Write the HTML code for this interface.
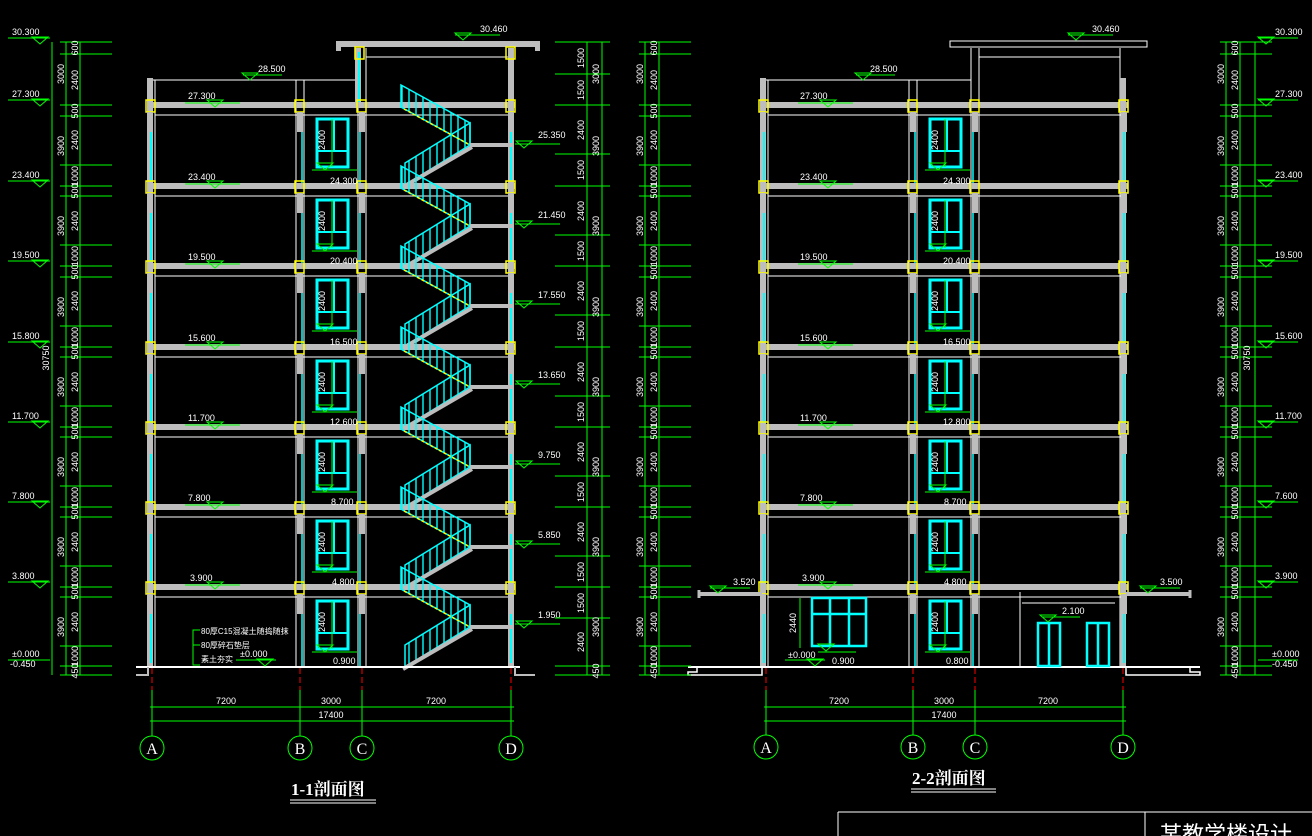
<!DOCTYPE html>
<html><head><meta charset="utf-8"><style>
html,body{margin:0;padding:0;background:#000;}
svg{display:block;}
text{font-family:"Liberation Sans Narrow","Liberation Sans","Noto Sans CJK SC",sans-serif;fill:#fff;font-size:9px;}
.d text{text-anchor:middle;}
.t{font-family:"Liberation Serif","Noto Serif CJK SC","Noto Sans CJK SC",serif;font-size:17px;font-weight:bold;}
</style></head><body>
<svg width="1312" height="836" viewBox="0 0 1312 836" xmlns="http://www.w3.org/2000/svg">
<defs>
<pattern id="rail" width="7" height="10" patternUnits="userSpaceOnUse"><rect width="7" height="10" fill="none"/><line x1="3" y1="0" x2="3" y2="10" stroke="#0ff" stroke-width="1.4"/></pattern>
<g id="mk"><path d="M-8 -7 L8 -7 L0 0 Z" fill="none" stroke="#0f0" stroke-width="1"/></g>
<g id="fl">
<line x1="147" y1="0" x2="515" y2="0" stroke="#bdbdbd" stroke-width="6"/>
<line x1="155" y1="10" x2="510" y2="10" stroke="#fff" stroke-width="1"/>
<rect x="146" y="-5" width="9" height="12" fill="none" stroke="#ff0" stroke-width="1.5"/>
<rect x="295" y="-5" width="9" height="12" fill="none" stroke="#ff0" stroke-width="1.5"/>
<rect x="357" y="-5" width="9" height="12" fill="none" stroke="#ff0" stroke-width="1.5"/>
<rect x="506" y="-5" width="9" height="12" fill="none" stroke="#ff0" stroke-width="1.5"/>
<rect x="147" y="7" width="6" height="20" fill="#bdbdbd"/>
<rect x="297" y="7" width="6" height="20" fill="#bdbdbd"/>
<rect x="359" y="7" width="6" height="20" fill="#bdbdbd"/>
<rect x="508" y="7" width="6" height="20" fill="#bdbdbd"/>
<line x1="151" y1="27" x2="151" y2="76" stroke="#0ff" stroke-width="2"/>
<line x1="511" y1="27" x2="511" y2="76" stroke="#0ff" stroke-width="2"/>
<line x1="302" y1="27" x2="302" y2="80" stroke="#0ff" stroke-width="1.5"/>
<line x1="360" y1="27" x2="360" y2="80" stroke="#0ff" stroke-width="1.5"/>
<rect x="317" y="14" width="31" height="48" fill="none" stroke="#0ff" stroke-width="3"/>
<line x1="317" y1="46" x2="348" y2="46" stroke="#0ff" stroke-width="2"/>
<line x1="334" y1="14" x2="334" y2="46" stroke="#0ff" stroke-width="2"/>
<line x1="332" y1="14" x2="332" y2="62" stroke="#0f0"/>
<line x1="312" y1="65" x2="357" y2="65" stroke="#0f0"/>
<use href="#mk" x="325" y="65"/>
</g>
<g id="st">
<polygon points="405,80 470,40 470,18 405,58" fill="url(#rail)" stroke="#0ff" stroke-width="1.5"/>
<line x1="403" y1="82" x2="472" y2="42" stroke="#bdbdbd" stroke-width="4"/>
<polygon points="401,-20 470,18 470,40 401,2" fill="url(#rail)" stroke="#0ff" stroke-width="1.5"/>
<line x1="404" y1="4" x2="470" y2="40" stroke="#ff0" stroke-width="1.5" stroke-dasharray="3,2"/>
<line x1="470" y1="40" x2="512" y2="40" stroke="#bdbdbd" stroke-width="4"/>
</g>
</defs>

<!-- ============ LEFT DRAWING ============ -->
<g stroke="#fff" stroke-width="1" fill="none">
<line x1="155" y1="80" x2="155" y2="666"/><line x1="296" y1="80" x2="296" y2="666"/><line x1="304" y1="80" x2="304" y2="666"/>
<line x1="358" y1="48" x2="358" y2="666"/><line x1="366" y1="48" x2="366" y2="666"/><line x1="510" y1="48" x2="510" y2="666"/>
<line x1="148" y1="80" x2="358" y2="80"/>
<line x1="366" y1="57" x2="510" y2="57"/>
</g>
<rect x="147" y="78" width="6" height="588" fill="#bdbdbd"/>
<rect x="508" y="48" width="6" height="618" fill="#bdbdbd"/>
<rect x="355" y="48" width="6" height="57" fill="#bdbdbd"/>
<rect x="336" y="41" width="204" height="6" fill="#bdbdbd"/>
<rect x="336" y="41" width="5" height="10" fill="#bdbdbd"/><rect x="535" y="41" width="5" height="10" fill="#bdbdbd"/>
<line x1="359" y1="52" x2="359" y2="105" stroke="#0ff" stroke-width="2"/>
<rect x="355" y="47" width="9" height="12" fill="none" stroke="#ff0" stroke-width="1.5"/>
<rect x="506" y="47" width="9" height="12" fill="none" stroke="#ff0" stroke-width="1.5"/>
<use href="#fl" y="105"/><use href="#fl" y="186"/><use href="#fl" y="266"/><use href="#fl" y="347"/>
<use href="#fl" y="427"/><use href="#fl" y="507"/><use href="#fl" y="587"/>
<use href="#st" y="105"/><use href="#st" y="186"/><use href="#st" y="266"/><use href="#st" y="347"/>
<use href="#st" y="427"/><use href="#st" y="507"/><use href="#st" y="587"/>
<line x1="136" y1="667" x2="520" y2="667" stroke="#fff" stroke-width="2"/>
<polyline points="136,675 148,675 148,667" stroke="#bdbdbd" stroke-width="2" fill="none"/>
<polyline points="515,667 515,675 535,675" stroke="#bdbdbd" stroke-width="2" fill="none"/>

<!-- left labels -->
<g>
<text x="188" y="99">27.300</text><line x1="185" y1="103" x2="240" y2="103" stroke="#0f0"/><use href="#mk" x="215" y="107"/>
<text x="188" y="180">23.400</text><line x1="185" y1="184" x2="240" y2="184" stroke="#0f0"/><use href="#mk" x="215" y="188"/>
<text x="188" y="260">19.500</text><line x1="185" y1="264" x2="240" y2="264" stroke="#0f0"/><use href="#mk" x="215" y="268"/>
<text x="188" y="341">15.600</text><line x1="185" y1="345" x2="240" y2="345" stroke="#0f0"/><use href="#mk" x="215" y="349"/>
<text x="188" y="421">11.700</text><line x1="185" y1="425" x2="240" y2="425" stroke="#0f0"/><use href="#mk" x="215" y="429"/>
<text x="188" y="501">7.800</text><line x1="185" y1="505" x2="240" y2="505" stroke="#0f0"/><use href="#mk" x="215" y="509"/>
<text x="190" y="581">3.900</text><line x1="185" y1="585" x2="240" y2="585" stroke="#0f0"/><use href="#mk" x="215" y="589"/>
<text x="258" y="72">28.500</text><line x1="243" y1="75" x2="282" y2="75" stroke="#0f0"/><use href="#mk" x="250" y="80"/>
<text x="480" y="32">30.460</text><line x1="455" y1="35" x2="500" y2="35" stroke="#0f0"/><use href="#mk" x="463" y="40"/>
<text x="330" y="184">24.300</text><text x="330" y="264">20.400</text><text x="330" y="345">16.500</text>
<text x="330" y="425">12.600</text><text x="331" y="505">8.700</text><text x="332" y="585">4.800</text><text x="333" y="664">0.900</text>
<g class="d">
<text transform="translate(325,140) rotate(-90)">2400</text><text transform="translate(325,221) rotate(-90)">2400</text>
<text transform="translate(325,301) rotate(-90)">2400</text><text transform="translate(325,382) rotate(-90)">2400</text>
<text transform="translate(325,462) rotate(-90)">2400</text><text transform="translate(325,542) rotate(-90)">2400</text>
<text transform="translate(325,622) rotate(-90)">2400</text>
</g>
<text x="538" y="138">25.350</text><line x1="515" y1="144" x2="560" y2="144" stroke="#0f0"/><use href="#mk" x="524" y="148"/>
<text x="538" y="218">21.450</text><line x1="515" y1="224" x2="560" y2="224" stroke="#0f0"/><use href="#mk" x="524" y="228"/>
<text x="538" y="298">17.550</text><line x1="515" y1="304" x2="560" y2="304" stroke="#0f0"/><use href="#mk" x="524" y="308"/>
<text x="538" y="378">13.650</text><line x1="515" y1="384" x2="560" y2="384" stroke="#0f0"/><use href="#mk" x="524" y="388"/>
<text x="538" y="458">9.750</text><line x1="515" y1="464" x2="560" y2="464" stroke="#0f0"/><use href="#mk" x="524" y="468"/>
<text x="538" y="538">5.850</text><line x1="515" y1="544" x2="560" y2="544" stroke="#0f0"/><use href="#mk" x="524" y="548"/>
<text x="538" y="618">1.950</text><line x1="515" y1="624" x2="560" y2="624" stroke="#0f0"/><use href="#mk" x="524" y="628"/>
<polyline points="200,665 193,665 193,630 200,630" stroke="#0f0" fill="none"/>
<line x1="193" y1="645" x2="200" y2="645" stroke="#0f0"/>
<text x="201" y="634" style="font-size:8px">80厚C15混凝土随捣随抹</text>
<text x="201" y="648" style="font-size:8px">80厚碎石垫层</text>
<text x="201" y="662" style="font-size:8px">素土夯实</text>
<text x="240" y="657">±0.000</text><line x1="236" y1="660" x2="276" y2="660" stroke="#0f0"/><use href="#mk" x="265" y="666"/>
</g>

<!-- left outer dims -->
<g id="dimcols">
<g stroke="#0f0" stroke-width="1">
<line x1="66" y1="42" x2="66" y2="675"/><line x1="80" y1="42" x2="80" y2="675"/>
<line x1="60" y1="42" x2="112" y2="42"/><line x1="60" y1="54" x2="112" y2="54"/><line x1="60" y1="105" x2="112" y2="105"/>
<line x1="60" y1="116" x2="112" y2="116"/><line x1="60" y1="165" x2="112" y2="165"/><line x1="60" y1="186" x2="112" y2="186"/>
<line x1="60" y1="196" x2="112" y2="196"/><line x1="60" y1="245" x2="112" y2="245"/><line x1="60" y1="266" x2="112" y2="266"/>
<line x1="60" y1="277" x2="112" y2="277"/><line x1="60" y1="326" x2="112" y2="326"/><line x1="60" y1="347" x2="112" y2="347"/>
<line x1="60" y1="357" x2="112" y2="357"/><line x1="60" y1="406" x2="112" y2="406"/><line x1="60" y1="427" x2="112" y2="427"/>
<line x1="60" y1="437" x2="112" y2="437"/><line x1="60" y1="486" x2="112" y2="486"/><line x1="60" y1="507" x2="112" y2="507"/>
<line x1="60" y1="517" x2="112" y2="517"/><line x1="60" y1="566" x2="112" y2="566"/><line x1="60" y1="587" x2="112" y2="587"/>
<line x1="60" y1="597" x2="112" y2="597"/><line x1="60" y1="646" x2="112" y2="646"/><line x1="60" y1="666" x2="112" y2="666"/>
<line x1="60" y1="675" x2="112" y2="675"/>
</g>
<g class="d">
<text transform="translate(64,74) rotate(-90)">3000</text>
<text transform="translate(64,146) rotate(-90)">3900</text><text transform="translate(64,226) rotate(-90)">3900</text>
<text transform="translate(64,307) rotate(-90)">3900</text><text transform="translate(64,387) rotate(-90)">3900</text>
<text transform="translate(64,467) rotate(-90)">3900</text><text transform="translate(64,547) rotate(-90)">3900</text>
<text transform="translate(64,627) rotate(-90)">3900</text>
<text transform="translate(78,48) rotate(-90)">600</text><text transform="translate(78,80) rotate(-90)">2400</text>
<text transform="translate(78,111) rotate(-90)">500</text><text transform="translate(78,140) rotate(-90)">2400</text><text transform="translate(78,176) rotate(-90)">1000</text>
<text transform="translate(78,191) rotate(-90)">500</text><text transform="translate(78,221) rotate(-90)">2400</text><text transform="translate(78,256) rotate(-90)">1000</text>
<text transform="translate(78,272) rotate(-90)">500</text><text transform="translate(78,301) rotate(-90)">2400</text><text transform="translate(78,337) rotate(-90)">1000</text>
<text transform="translate(78,352) rotate(-90)">500</text><text transform="translate(78,382) rotate(-90)">2400</text><text transform="translate(78,417) rotate(-90)">1000</text>
<text transform="translate(78,432) rotate(-90)">500</text><text transform="translate(78,462) rotate(-90)">2400</text><text transform="translate(78,497) rotate(-90)">1000</text>
<text transform="translate(78,512) rotate(-90)">500</text><text transform="translate(78,542) rotate(-90)">2400</text><text transform="translate(78,577) rotate(-90)">1000</text>
<text transform="translate(78,592) rotate(-90)">500</text><text transform="translate(78,622) rotate(-90)">2400</text><text transform="translate(78,656) rotate(-90)">1000</text>
<text transform="translate(78,671) rotate(-90)">450</text>
</g>
</g>
<line x1="52" y1="42" x2="52" y2="675" stroke="#0f0"/>
<g class="d"><text transform="translate(49,358) rotate(-90)">30750</text></g>
<g stroke="#0f0">
<line x1="8" y1="38" x2="50" y2="38"/><line x1="8" y1="100" x2="50" y2="100"/><line x1="8" y1="181" x2="50" y2="181"/>
<line x1="8" y1="261" x2="50" y2="261"/><line x1="8" y1="342" x2="50" y2="342"/><line x1="8" y1="422" x2="50" y2="422"/>
<line x1="8" y1="502" x2="50" y2="502"/><line x1="8" y1="582" x2="50" y2="582"/><line x1="8" y1="660" x2="50" y2="660"/>
</g>
<use href="#mk" x="40" y="44"/><use href="#mk" x="40" y="106"/><use href="#mk" x="40" y="187"/><use href="#mk" x="40" y="267"/>
<use href="#mk" x="40" y="348"/><use href="#mk" x="40" y="428"/><use href="#mk" x="40" y="508"/><use href="#mk" x="40" y="588"/>
<text x="12" y="35">30.300</text><text x="12" y="97">27.300</text><text x="12" y="178">23.400</text><text x="12" y="258">19.500</text>
<text x="12" y="339">15.800</text><text x="12" y="419">11.700</text><text x="12" y="499">7.800</text><text x="12" y="579">3.800</text>
<text x="12" y="657">±0.000</text><text x="10" y="667">-0.450</text>

<!-- stair dims -->
<g stroke="#0f0">
<line x1="587" y1="42" x2="587" y2="675"/><line x1="602" y1="42" x2="602" y2="675"/>
<line x1="555" y1="42" x2="610" y2="42"/><line x1="555" y1="74" x2="610" y2="74"/><line x1="555" y1="105" x2="610" y2="105"/>
<line x1="555" y1="154" x2="610" y2="154"/><line x1="555" y1="186" x2="610" y2="186"/><line x1="555" y1="235" x2="610" y2="235"/>
<line x1="555" y1="266" x2="610" y2="266"/><line x1="555" y1="315" x2="610" y2="315"/><line x1="555" y1="347" x2="610" y2="347"/>
<line x1="555" y1="396" x2="610" y2="396"/><line x1="555" y1="427" x2="610" y2="427"/><line x1="555" y1="476" x2="610" y2="476"/>
<line x1="555" y1="507" x2="610" y2="507"/><line x1="555" y1="556" x2="610" y2="556"/><line x1="555" y1="587" x2="610" y2="587"/>
<line x1="555" y1="618" x2="610" y2="618"/><line x1="555" y1="666" x2="610" y2="666"/><line x1="555" y1="675" x2="610" y2="675"/>
</g>
<g class="d">
<text transform="translate(584,58) rotate(-90)">1500</text><text transform="translate(584,90) rotate(-90)">1500</text><text transform="translate(599,74) rotate(-90)">3000</text>
<text transform="translate(584,130) rotate(-90)">2400</text><text transform="translate(584,170) rotate(-90)">1500</text><text transform="translate(599,146) rotate(-90)">3900</text>
<text transform="translate(584,211) rotate(-90)">2400</text><text transform="translate(584,251) rotate(-90)">1500</text><text transform="translate(599,226) rotate(-90)">3900</text>
<text transform="translate(584,291) rotate(-90)">2400</text><text transform="translate(584,331) rotate(-90)">1500</text><text transform="translate(599,307) rotate(-90)">3900</text>
<text transform="translate(584,372) rotate(-90)">2400</text><text transform="translate(584,412) rotate(-90)">1500</text><text transform="translate(599,387) rotate(-90)">3900</text>
<text transform="translate(584,452) rotate(-90)">2400</text><text transform="translate(584,492) rotate(-90)">1500</text><text transform="translate(599,467) rotate(-90)">3900</text>
<text transform="translate(584,532) rotate(-90)">2400</text><text transform="translate(584,572) rotate(-90)">1500</text><text transform="translate(599,547) rotate(-90)">3900</text>
<text transform="translate(584,603) rotate(-90)">1500</text><text transform="translate(584,642) rotate(-90)">2400</text><text transform="translate(599,627) rotate(-90)">3900</text>
<text transform="translate(599,671) rotate(-90)">450</text>
</g>

<!-- left axes -->
<g stroke="#f00" stroke-dasharray="6,3"><line x1="152" y1="668" x2="152" y2="690"/><line x1="300" y1="668" x2="300" y2="690"/><line x1="362" y1="668" x2="362" y2="690"/><line x1="511" y1="668" x2="511" y2="690"/></g>
<g stroke="#0f0" fill="none">
<line x1="152" y1="690" x2="152" y2="736"/><line x1="300" y1="690" x2="300" y2="736"/><line x1="362" y1="690" x2="362" y2="736"/><line x1="511" y1="690" x2="511" y2="736"/>
<line x1="150" y1="707" x2="514" y2="707"/><line x1="150" y1="721" x2="514" y2="721"/>
<circle cx="152" cy="748" r="12"/><circle cx="300" cy="748" r="12"/><circle cx="362" cy="748" r="12"/><circle cx="511" cy="748" r="12"/>
</g>
<g class="d"><text x="226" y="704">7200</text><text x="331" y="704">3000</text><text x="436" y="704">7200</text><text x="331" y="718">17400</text></g>
<g class="d" style="font-family:'Liberation Serif',serif"><text x="152" y="754" style="font-size:16px;font-family:'Liberation Serif',serif">A</text><text x="300" y="754" style="font-size:16px;font-family:'Liberation Serif',serif">B</text><text x="362" y="754" style="font-size:16px;font-family:'Liberation Serif',serif">C</text><text x="511" y="754" style="font-size:16px;font-family:'Liberation Serif',serif">D</text></g>
<text class="t" x="291" y="795">1-1剖面图</text>
<line x1="290" y1="800" x2="376" y2="800" stroke="#fff"/><line x1="290" y1="803" x2="376" y2="803" stroke="#fff"/>

<!-- ============ RIGHT DRAWING ============ -->
<g stroke="#fff" stroke-width="1" fill="none">
<line x1="768" y1="80" x2="768" y2="666"/><line x1="909" y1="80" x2="909" y2="666"/><line x1="917" y1="80" x2="917" y2="666"/>
<line x1="971" y1="48" x2="971" y2="666"/><line x1="979" y1="48" x2="979" y2="666"/><line x1="1120" y1="48" x2="1120" y2="666"/>
<line x1="761" y1="80" x2="971" y2="80"/><line x1="979" y1="57" x2="1120" y2="57"/>
<rect x="950" y="41" width="197" height="6"/>
<line x1="1020" y1="592" x2="1020" y2="666"/><line x1="1022" y1="603" x2="1115" y2="603"/>
</g>
<rect x="760" y="78" width="6" height="588" fill="#bdbdbd"/>
<rect x="1120" y="78" width="6" height="588" fill="#bdbdbd"/>
<g transform="translate(613,0)">
<use href="#fl" y="105"/><use href="#fl" y="186"/><use href="#fl" y="266"/><use href="#fl" y="347"/>
<use href="#fl" y="427"/><use href="#fl" y="507"/><use href="#fl" y="587"/>
</g>
<line x1="700" y1="594" x2="762" y2="594" stroke="#bdbdbd" stroke-width="4"/>
<line x1="699" y1="590" x2="699" y2="598" stroke="#bdbdbd" stroke-width="3"/>
<line x1="1126" y1="594" x2="1190" y2="594" stroke="#bdbdbd" stroke-width="4"/>
<line x1="1190" y1="590" x2="1190" y2="598" stroke="#bdbdbd" stroke-width="3"/>
<line x1="688" y1="667" x2="1200" y2="667" stroke="#fff" stroke-width="2"/>
<polyline points="762,667 762,675 688,675 688,672 697,672 697,667" stroke="#fff" fill="none" stroke-width="1.5"/>
<polyline points="1126,667 1126,675 1200,675 1200,672 1190,672 1190,667" stroke="#fff" fill="none" stroke-width="1.5"/>
<g stroke="#0ff" stroke-width="2.5" fill="none">
<rect x="812" y="598" width="54" height="48"/><line x1="812" y1="614" x2="866" y2="614"/><line x1="830" y1="598" x2="830" y2="646"/><line x1="849" y1="598" x2="849" y2="646"/>
<rect x="1038" y="623" width="22" height="43"/><line x1="1049" y1="623" x2="1049" y2="666"/>
<rect x="1087" y="623" width="22" height="43"/><line x1="1098" y1="623" x2="1098" y2="666"/>
</g>
<line x1="800" y1="598" x2="800" y2="648" stroke="#0f0"/>
<g class="d"><text transform="translate(796,623) rotate(-90)">2440</text></g>
<text x="832" y="664">0.900</text><line x1="818" y1="652" x2="856" y2="652" stroke="#0f0"/><use href="#mk" x="826" y="651"/>
<text x="788" y="658">±0.000</text><line x1="785" y1="660" x2="825" y2="660" stroke="#0f0"/><use href="#mk" x="815" y="666"/>
<text x="1062" y="614">2.100</text><line x1="1042" y1="617" x2="1080" y2="617" stroke="#0f0"/><use href="#mk" x="1048" y="622"/>
<text x="733" y="585">3.520</text><line x1="710" y1="588" x2="750" y2="588" stroke="#0f0"/><use href="#mk" x="718" y="593"/>
<text x="1160" y="585">3.500</text><line x1="1140" y1="588" x2="1180" y2="588" stroke="#0f0"/><use href="#mk" x="1148" y="593"/>
<text x="800" y="99">27.300</text><line x1="798" y1="103" x2="853" y2="103" stroke="#0f0"/><use href="#mk" x="828" y="107"/>
<text x="800" y="180">23.400</text><line x1="798" y1="184" x2="853" y2="184" stroke="#0f0"/><use href="#mk" x="828" y="188"/>
<text x="800" y="260">19.500</text><line x1="798" y1="264" x2="853" y2="264" stroke="#0f0"/><use href="#mk" x="828" y="268"/>
<text x="800" y="341">15.600</text><line x1="798" y1="345" x2="853" y2="345" stroke="#0f0"/><use href="#mk" x="828" y="349"/>
<text x="800" y="421">11.700</text><line x1="798" y1="425" x2="853" y2="425" stroke="#0f0"/><use href="#mk" x="828" y="429"/>
<text x="800" y="501">7.800</text><line x1="798" y1="505" x2="853" y2="505" stroke="#0f0"/><use href="#mk" x="828" y="509"/>
<text x="802" y="581">3.900</text><line x1="798" y1="585" x2="853" y2="585" stroke="#0f0"/><use href="#mk" x="828" y="589"/>
<text x="870" y="72">28.500</text><line x1="856" y1="75" x2="895" y2="75" stroke="#0f0"/><use href="#mk" x="863" y="80"/>
<text x="1092" y="32">30.460</text><line x1="1068" y1="35" x2="1113" y2="35" stroke="#0f0"/><use href="#mk" x="1076" y="40"/>
<text x="943" y="184">24.300</text><text x="943" y="264">20.400</text><text x="943" y="345">16.500</text>
<text x="943" y="425">12.800</text><text x="944" y="505">8.700</text><text x="944" y="585">4.800</text><text x="946" y="664">0.800</text>
<g class="d">
<text transform="translate(938,140) rotate(-90)">2400</text><text transform="translate(938,221) rotate(-90)">2400</text>
<text transform="translate(938,301) rotate(-90)">2400</text><text transform="translate(938,382) rotate(-90)">2400</text>
<text transform="translate(938,462) rotate(-90)">2400</text><text transform="translate(938,542) rotate(-90)">2400</text>
<text transform="translate(938,622) rotate(-90)">2400</text>
</g>

<use href="#dimcols" x="579"/>
<g transform="translate(1160,0)"><use href="#dimcols"/></g>
<line x1="1255" y1="42" x2="1255" y2="675" stroke="#0f0"/>
<g class="d"><text transform="translate(1250,358) rotate(-90)">30750</text></g>
<g stroke="#0f0">
<line x1="1258" y1="38" x2="1298" y2="38"/><line x1="1258" y1="100" x2="1298" y2="100"/><line x1="1258" y1="181" x2="1298" y2="181"/>
<line x1="1258" y1="261" x2="1298" y2="261"/><line x1="1258" y1="342" x2="1298" y2="342"/><line x1="1258" y1="422" x2="1298" y2="422"/>
<line x1="1258" y1="502" x2="1298" y2="502"/><line x1="1258" y1="582" x2="1298" y2="582"/><line x1="1258" y1="660" x2="1298" y2="660"/>
</g>
<use href="#mk" x="1266" y="44"/><use href="#mk" x="1266" y="106"/><use href="#mk" x="1266" y="187"/><use href="#mk" x="1266" y="267"/>
<use href="#mk" x="1266" y="348"/><use href="#mk" x="1266" y="428"/><use href="#mk" x="1266" y="508"/><use href="#mk" x="1266" y="588"/>
<text x="1275" y="35">30.300</text><text x="1275" y="97">27.300</text><text x="1275" y="178">23.400</text><text x="1275" y="258">19.500</text>
<text x="1275" y="339">15.600</text><text x="1275" y="419">11.700</text><text x="1275" y="499">7.600</text><text x="1275" y="579">3.900</text>
<text x="1272" y="657">±0.000</text><text x="1272" y="667">-0.450</text>

<!-- right axes -->
<g stroke="#f00" stroke-dasharray="6,3"><line x1="766" y1="668" x2="766" y2="690"/><line x1="913" y1="668" x2="913" y2="690"/><line x1="975" y1="668" x2="975" y2="690"/><line x1="1123" y1="668" x2="1123" y2="690"/></g>
<g stroke="#0f0" fill="none">
<line x1="766" y1="690" x2="766" y2="735"/><line x1="913" y1="690" x2="913" y2="735"/><line x1="975" y1="690" x2="975" y2="735"/><line x1="1123" y1="690" x2="1123" y2="735"/>
<line x1="764" y1="707" x2="1126" y2="707"/><line x1="764" y1="721" x2="1126" y2="721"/>
<circle cx="766" cy="747" r="12"/><circle cx="913" cy="747" r="12"/><circle cx="975" cy="747" r="12"/><circle cx="1123" cy="747" r="12"/>
</g>
<g class="d"><text x="839" y="704">7200</text><text x="944" y="704">3000</text><text x="1048" y="704">7200</text><text x="944" y="718">17400</text></g>
<g class="d"><text x="766" y="753" style="font-size:16px;font-family:'Liberation Serif',serif">A</text><text x="913" y="753" style="font-size:16px;font-family:'Liberation Serif',serif">B</text><text x="975" y="753" style="font-size:16px;font-family:'Liberation Serif',serif">C</text><text x="1123" y="753" style="font-size:16px;font-family:'Liberation Serif',serif">D</text></g>
<text class="t" x="912" y="784">2-2剖面图</text>
<line x1="911" y1="789" x2="996" y2="789" stroke="#fff"/><line x1="911" y1="792" x2="996" y2="792" stroke="#fff"/>

<!-- title block -->
<g stroke="#fff" fill="none"><line x1="838" y1="812" x2="1312" y2="812"/><line x1="838" y1="812" x2="838" y2="836"/><line x1="1145" y1="812" x2="1145" y2="836"/></g>
<text x="1160" y="842" style="font-size:22px;font-family:'Noto Sans CJK SC',sans-serif">某教学楼设计</text>
</svg>
</body></html>
